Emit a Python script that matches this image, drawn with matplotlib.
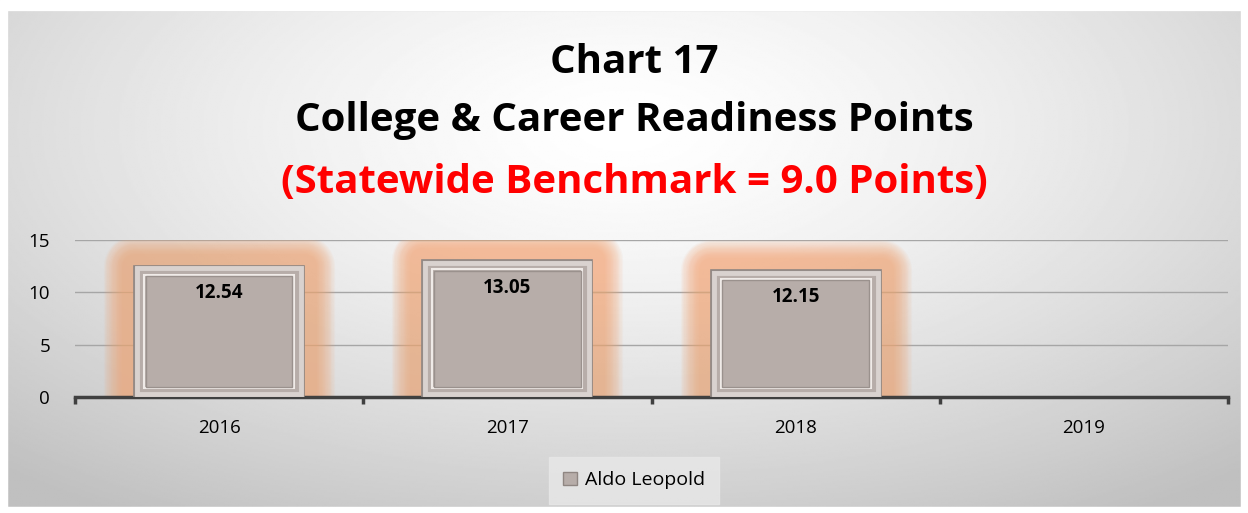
import numpy as np
import matplotlib.pyplot as plt
from matplotlib.patches import Rectangle

years = ["2016", "2017", "2018", "2019"]
points = [12.54, 13.05, 12.15, np.nan]
value_labels = ["12.54", "13.05", "12.15", ""]
series_name = "Aldo Leopold"
title_lines = ["Chart 17", "College & Career Readiness Points"]
benchmark_line = "(Statewide Benchmark = 9.0 Points)"

plt.rcParams['font.family'] = ['Open Sans', 'DejaVu Sans']

fig = plt.figure(figsize=(12.48, 5.13), dpi=100)

# background: soft radial gradient, white centre to grey edges
bg = fig.add_axes([0, 0, 1, 1], zorder=-10)
yy, xx = np.mgrid[0:1:300j, 0:1:700j]
r = np.sqrt(((xx - 0.5) / 0.75) ** 2 + ((yy - 0.25) / 0.9) ** 2)
shade = 1.0 - 0.25 * np.clip(r, 0, 1) ** 1.4
bg.imshow(shade, cmap='gray', vmin=0, vmax=1, aspect='auto', extent=[0, 1, 1, 0])
bg.set_xlim(0, 1)
bg.set_ylim(1, 0)
bg.axis('off')
# thin outer frame
bg.add_patch(Rectangle((0.006, 0.012), 0.988, 0.968, fill=False,
                       edgecolor='#d0d0d0', lw=1, transform=bg.transAxes))
bg.add_patch(Rectangle((0, 0), 0.006, 1, color='white', transform=bg.transAxes))
bg.add_patch(Rectangle((0.994, 0), 0.006, 1, color='white', transform=bg.transAxes))
bg.add_patch(Rectangle((0, 0), 1, 0.012, color='white', transform=bg.transAxes))
bg.add_patch(Rectangle((0, 0.98), 1, 0.02, color='white', transform=bg.transAxes))

ax = fig.add_axes([0.0601, 0.2261, 0.9239, 0.306])
ax.patch.set_alpha(0)

x = np.arange(len(years))
w = 0.59

# orange glow behind bars: pastel band that fades at its outer edge
for lw in np.linspace(44, 18, 16):
    ax.bar(x, points, width=w, color='none', edgecolor='#f3a472',
           linewidth=lw, alpha=0.065, joinstyle='round', zorder=1)

bars = ax.bar(x, points, width=w, color='#b7ada9', edgecolor='#8f8682',
              linewidth=1.2, zorder=3)

# bevel frame on each bar
for b in bars:
    h = b.get_height()
    if np.isnan(h):
        continue
    x0, bw = b.get_x(), b.get_width()
    ix, iy = 0.035, 0.85
    ax.add_patch(Rectangle((x0 + ix * 0.3, iy * 0.3), bw - ix * 0.6, h - iy * 0.6,
                           fill=False, edgecolor='#d9d2cf', lw=3.5, zorder=4))
    ax.add_patch(Rectangle((x0 + ix, iy), bw - 2 * ix, h - 2 * iy,
                           fill=False, edgecolor='#f0ebe8', lw=1.5, zorder=4))
    ax.add_patch(Rectangle((x0 + ix + 0.006, iy + 0.12), bw - 2 * ix - 0.012, h - 2 * iy - 0.24,
                           fill=False, edgecolor='#9a918d', lw=1, zorder=4))

for xi, v, lab in zip(x, points, value_labels):
    if lab:
        ax.text(xi, v - 2.6, lab, ha='center', va='center', fontsize=13.5,
                fontweight='bold', color='black', zorder=5)

ax.set_xlim(-0.5, len(years) - 0.5)
ax.set_ylim(0, 15)
ax.set_yticks([0, 5, 10, 15])
ax.yaxis.grid(True, color='#a6a6a6', lw=1)
ax.set_axisbelow(True)
for s in ['top', 'right', 'left']:
    ax.spines[s].set_visible(False)
ax.spines['bottom'].set_color('#404040')
ax.spines['bottom'].set_linewidth(2.5)
ax.tick_params(axis='y', length=0, labelsize=13.5, pad=18)
ax.set_xticks(np.arange(-0.5, len(years), 1), minor=False)
ax.set_xticklabels([])
ax.tick_params(axis='x', which='major', length=5, width=2.5, color='#404040')
ax.set_xticks(x, minor=True)
ax.set_xticklabels(years, minor=True)
ax.tick_params(axis='x', which='minor', length=0, labelsize=13.5, pad=16)

# titles
fig.text(0.508, 0.879, title_lines[0], ha='center', va='center', fontsize=29, fontweight='bold')
fig.text(0.508, 0.766, title_lines[1], ha='center', va='center', fontsize=29, fontweight='bold')
fig.text(0.508, 0.645, benchmark_line, ha='center', va='center', fontsize=29,
         fontweight='bold', color='#ff0000')

leg_handle = Rectangle((0, 0), 1, 1, facecolor='#b7ada9', edgecolor='#8f8682')
leg = fig.legend([leg_handle], [series_name], loc='center', bbox_to_anchor=(0.508, 0.064),
                 fontsize=14, frameon=True, fancybox=False, handlelength=0.7,
                 handleheight=0.7, handletextpad=0.4, borderpad=0.75)
leg.get_frame().set_facecolor('#e8e8e8')
leg.get_frame().set_edgecolor('#e8e8e8')

fig.savefig('out.png', dpi=100)
